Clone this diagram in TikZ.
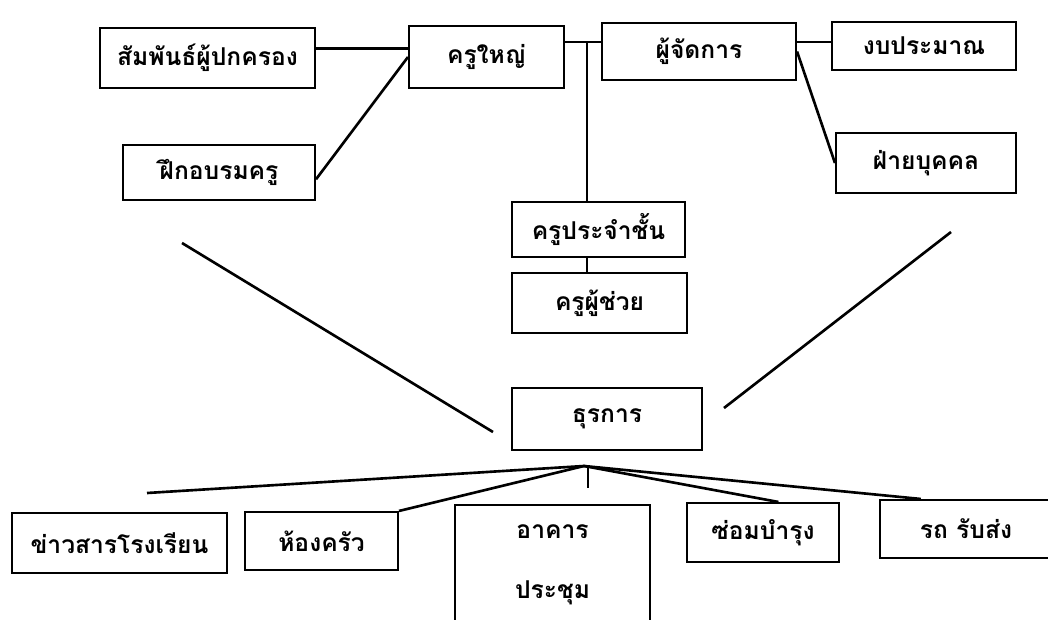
\documentclass[tikz,border=0pt]{standalone}
\usepackage{fontspec}
\newfontfamily\thaifont[Script=Thai]{Loma}
\usetikzlibrary{calc}
\begin{document}
\begin{tikzpicture}[x=0.02cm,y=-0.02cm,
	box/.style={draw,line width=1.2pt,inner sep=2pt,font=\thaifont\bfseries\fontsize{14}{17}\selectfont},
	link/.style={line width=1.5pt}]
	\clip (0,0) rectangle (1048,619);
	% upper part
	\node[box,minimum width=4.3cm,minimum height=1.2cm] (somphan) at (207.5,58) {สัมพันธ์ผู้ปกครอง};
	\node[box,minimum width=3.1cm,minimum height=1.24cm] (khruyai) at (486.5,57) {ครูใหญ่};
	\node[box,minimum width=3.88cm,minimum height=1.14cm] (phuchatkan) at (699,51.5) {ผู้จัดการ};
	\node[box,minimum width=3.68cm,minimum height=0.96cm] (ngop) at (924,46) {งบประมาณ};
	\node[box,minimum width=3.6cm,minimum height=1.2cm] (fai) at (926,163) {ฝ่ายบุคคล};
	\node[box,minimum width=3.84cm,minimum height=1.1cm] (fuek) at (219,172.5) {ฝึกอบรมครู};
	\node[box,minimum width=3.46cm,minimum height=1.1cm] (prachamchan) at (598.5,229.5) {ครูประจำชั้น};
	\node[box,minimum width=3.5cm,minimum height=1.2cm] (phuchuai) at (599.5,303) {ครูผู้ช่วย};
	\node[box,minimum width=3.8cm,minimum height=1.24cm] (thurakan) at (607,419) {ธุรการ};
	% lower part
	\node[box,minimum width=4.3cm,minimum height=1.2cm] (khaosan) at (119.5,543) {ข่าวสารโรงเรียน};
	\node[box,minimum width=3.06cm,minimum height=1.16cm] (hongkhrua) at (321.5,541) {ห้องครัว};
	\node[box,minimum width=3.9cm,minimum height=2.4cm,align=center] (akhan) at (552.5,565) {อาคาร\\[0.6cm]ประชุม};
	\node[box,minimum width=3.04cm,minimum height=1.18cm] (somram) at (763,532.5) {ซ่อมบำรุง};
	\node[box,minimum width=3.44cm,minimum height=1.16cm] (rot) at (966,529) {รถ รับส่ง};
	\coordinate (j1) at (587,42);
	\coordinate (hub) at (584,466);
	\coordinate (lend) at (147,493);
	\coordinate (tick) at (588,488);
	\coordinate (la) at (182,243);
	\coordinate (lb) at (493,432);
	\coordinate (ra) at (724,408);
	\coordinate (rb) at (951,232);
	% connectors
	\draw[link] (somphan.5) -- (somphan.5 -| khruyai.west);
	\draw[link] (fuek.-4) -- (khruyai.west);
	\draw[link] (khruyai.east |- j1) -- (phuchatkan.west |- j1);
	\draw[link] (j1) -- (j1 |- prachamchan.north);
	\draw[link] (prachamchan.south -| j1) -- (phuchuai.north -| j1);
	\draw[link] (phuchatkan.east |- j1) -- (ngop.west |- j1);
	\draw[link] (phuchatkan.east) -- (fai.west);
	\draw[link] (la) -- (lb);
	\draw[link] (ra) -- (rb);
	\draw[link] (hub) -- (lend);
	\draw[link] (hub) -- (hongkhrua.north east);
	\draw[link] (hub -| tick) -- (tick);
	\draw[link] (hub) -- ($(somram.north west)!0.6!(somram.north east)$);
	\draw[link] (hub) -- ($(rot.north west)!0.24!(rot.north east)$);
\end{tikzpicture}
\end{document}
